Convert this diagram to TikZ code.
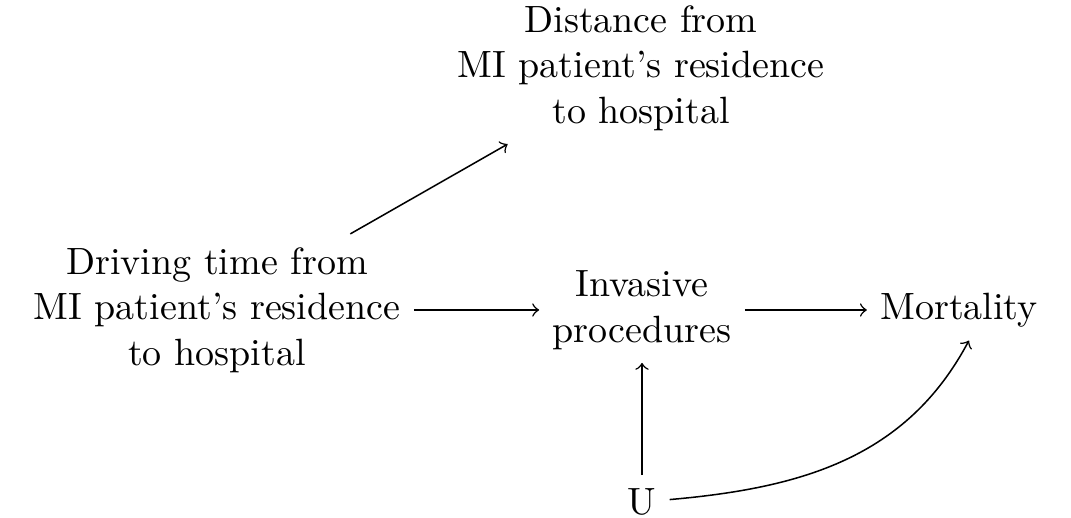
\documentclass[tikz,border=0pt]{standalone}
\begin{document}
\begin{tikzpicture}[x=0.26316pt,y=-0.26316pt,
  var/.style={align=center},
  arr/.style={->}]
\useasboundingbox (0,0) rectangle (1071,518);
\node[var] (dist) at (641,68) {Distance from\\MI patient's residence\\to hospital};
\node[var] (drive) at (217,310) {Driving time from\\MI patient's residence\\to hospital};
\node[var] (inv) at (642,310) {Invasive\\procedures};
\node[var] (mort) at (959,310) {Mortality};
\node[var] (u) at (642,502) {U};
\draw[arr] (drive) -- (dist);
\draw[arr] (drive) -- (inv);
\draw[arr] (inv) -- (mort);
\draw[arr] (u) -- (inv);
\draw[arr] (u) to[out=5, in=-118] (mort.-72);
\end{tikzpicture}
\end{document}
